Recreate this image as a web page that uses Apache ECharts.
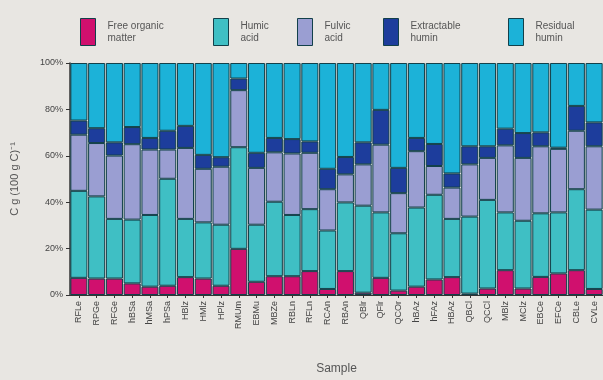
<!DOCTYPE html>
<html><head><meta charset="utf-8">
<script src="https://cdn.jsdelivr.net/npm/echarts@6/dist/echarts.min.js"></script>
<style>html,body{margin:0;padding:0;background:#e8e6e2;}#c{width:603px;height:380px;}</style>
</head><body><div id="c"></div>
<script>
const samples = ['RFLe','RPGe','RFGe','hBSa','hMSa','hPSa','HBlz','HMlz','HPlz','RMUm','EBMu','MBZe','RBLn','RFLn','RCAn','RBAn','QBlr','QFlr','QCOr','hBAz','hFAz','HBAz','QBCl','QCCl','MBlz','MClz','EBCe','EFCe','CBLe','CVLe'];
const freeOrganic = [7.4,7.1,7.1,5.0,3.6,4.0,7.7,7.1,4.0,19.9,5.7,8.1,8.1,10.3,2.6,10.3,1.0,7.4,1.9,3.6,6.7,7.7,0.6,2.8,10.7,2.8,7.8,9.3,10.7,2.6];
const humicAcid = [37.5,35.4,25.7,27.5,30.9,46.1,25.1,24.2,26.3,43.8,24.6,32.1,26.4,26.7,25.2,29.6,37.5,28.2,24.7,34.1,36.5,25.1,33.2,38.2,24.9,29.2,27.4,26.3,34.9,34.2];
const fulvicAcid = [24.2,23.0,27.3,32.5,28.2,12.6,30.6,23.1,25.0,24.6,24.5,21.3,26.5,24.3,17.8,12.1,17.8,29.2,17.3,24.3,12.4,13.5,22.5,18.1,28.9,27.1,28.9,27.4,25.2,27.3];
const extractableHumin = [6.1,6.4,5.7,7.4,5.0,8.1,9.5,6.0,4.1,5.0,6.5,6.2,6.2,4.9,8.8,7.5,9.5,15.0,10.9,5.7,9.5,6.1,7.8,5.0,7.2,10.7,6.0,0.5,10.7,10.3];
const residualHumin = [24.8,28.1,34.2,27.6,32.3,29.2,27.1,39.6,40.6,6.7,38.7,32.3,32.8,33.8,45.6,40.5,34.2,20.2,45.2,32.3,34.9,47.6,35.9,35.9,28.3,30.2,29.9,36.5,18.5,25.6];
const yTicks = [0,20,40,60,80,100];

const seriesDefs = [
  {name:'Free organic matter', label:'Free organic\nmatter', data:freeOrganic, color:'#d0106e', left:75},
  {name:'Humic acid', label:'Humic\nacid', data:humicAcid, color:'#3fbfc4', left:208},
  {name:'Fulvic acid', label:'Fulvic\nacid', data:fulvicAcid, color:'#9a9ed2', left:292},
  {name:'Extractable humin', label:'Extractable\nhumin', data:extractableHumin, color:'#1d3d9c', left:378},
  {name:'Residual humin', label:'Residual\nhumin', data:residualHumin, color:'#1cb2d8', left:503}
];
const border = '#12404a';
const chart = echarts.init(document.getElementById('c'), null, {renderer:'canvas'});
chart.setOption({
  backgroundColor:'#e8e6e2',
  animation:false,
  textStyle:{fontFamily:'Liberation Sans, Arial, sans-serif'},
  legend: seriesDefs.map(s=>({
    data:[s.name], left:s.left, top:13, icon:'rect', itemWidth:15, itemHeight:27,
    selectedMode:false,
    formatter:()=>s.label,
    itemStyle:{borderColor:border,borderWidth:1},
    textStyle:{fontSize:10,color:'#555',lineHeight:12,padding:[0,0,0,7]}
  })),
  grid:{left:70,right:0,top:63,bottom:83,containLabel:false},
  xAxis:{
    type:'category', data:samples, name:'Sample', nameLocation:'middle', nameGap:68,
    nameTextStyle:{fontSize:12,color:'#555'},
    axisLine:{show:true,lineStyle:{color:'#333',width:1}},
    axisTick:{show:true,alignWithLabel:true,length:3,lineStyle:{color:'#333'}},
    axisLabel:{rotate:90,fontSize:9,color:'#444',margin:6,interval:0}
  },
  yAxis:{
    type:'value', min:0, max:100, interval:20,
    name:'C g (100 g C)\u207B\u00B9', nameLocation:'middle', nameGap:50,
    nameTextStyle:{fontSize:11,color:'#555'},
    axisLine:{show:true,lineStyle:{color:'#333',width:1.5}},
    axisTick:{show:true,length:4,lineStyle:{color:'#333'}},
    splitLine:{show:false},
    axisLabel:{formatter:'{value}%',fontSize:9,color:'#444',margin:7}
  },
  series: seriesDefs.map(s=>({
    name:s.name, type:'bar', stack:'total', data:s.data,
    barCategoryGap:'4%',
    itemStyle:{color:s.color,borderColor:border,borderWidth:1}
  }))
});
</script></body></html>
